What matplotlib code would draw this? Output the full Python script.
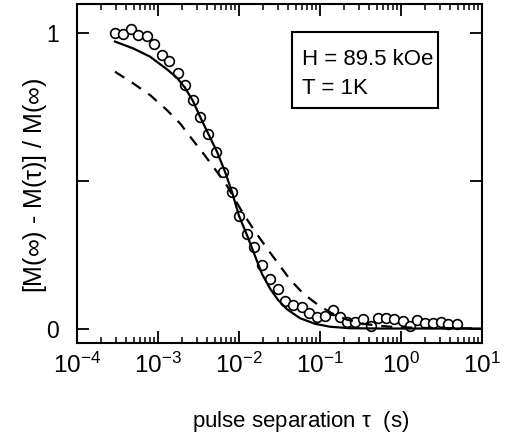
import matplotlib

matplotlib.use("Agg")
import matplotlib.pyplot as plt
from matplotlib.patches import Rectangle
from matplotlib.ticker import LogLocator, NullFormatter

plt.rcParams["font.family"] = ["Liberation Sans", "DejaVu Sans"]
plt.rcParams["mathtext.fontset"] = "stix"
plt.rcParams["mathtext.default"] = "regular"

# measured points
tau_data = [
    2.94e-4, 3.66e-4, 4.60e-4, 5.71e-4, 7.24e-4, 8.93e-4, 1.11e-3, 1.38e-3, 1.75e-3,
    2.15e-3, 2.68e-3, 3.30e-3, 4.18e-3, 5.15e-3, 6.40e-3, 8.13e-3, 1.00e-2, 1.24e-2,
    1.55e-2, 1.94e-2, 2.42e-2, 3.05e-2, 3.70e-2, 4.68e-2, 5.94e-2, 7.38e-2, 9.10e-2,
    0.115, 0.144, 0.177, 0.217, 0.270, 0.343, 0.427, 0.525, 0.653, 0.826, 1.05, 1.29,
    1.59, 1.98, 2.46, 3.09, 3.84, 4.88,
]
m_data = [
    0.999, 0.997, 1.013, 0.993, 0.990, 0.962, 0.926, 0.906, 0.864,
    0.824, 0.773, 0.717, 0.658, 0.596, 0.529, 0.463, 0.381, 0.320,
    0.277, 0.215, 0.166, 0.133, 0.094, 0.080, 0.072, 0.051, 0.040,
    0.042, 0.063, 0.040, 0.023, 0.023, 0.031, 0.008, 0.037, 0.035, 0.031, 0.025, 0.008,
    0.029, 0.018, 0.018, 0.023, 0.015, 0.015,
]

# solid fit curve
tau_solid = [
    2.94e-4, 4.91e-4, 7.96e-4, 1.29e-3, 1.72e-3, 2.15e-3, 2.70e-3, 3.30e-3, 4.14e-3,
    5.35e-3, 6.71e-3, 8.20e-3, 1.00e-2, 1.26e-2, 1.58e-2, 1.92e-2, 2.42e-2, 3.03e-2,
    3.92e-2, 5.66e-2, 8.67e-2, 0.133, 0.234, 0.551, 10.0,
]
m_solid = [
    0.971, 0.948, 0.920, 0.877, 0.848, 0.815, 0.770, 0.717, 0.661,
    0.598, 0.531, 0.462, 0.381, 0.315, 0.245, 0.185, 0.135, 0.097,
    0.065, 0.035, 0.016, 0.006, 0.001, 0.0, 0.0,
]

# dashed fit curve
tau_dashed = [
    2.94e-4, 4.91e-4, 7.96e-4, 1.29e-3, 1.87e-3, 2.48e-3, 3.80e-3, 5.35e-3, 7.11e-3,
    1.12e-2, 1.58e-2, 2.22e-2, 3.03e-2, 4.26e-2, 6.17e-2, 9.44e-2, 0.141, 0.215,
    0.360, 0.731, 1.72, 10.0,
]
m_dashed = [
    0.869, 0.830, 0.790, 0.739, 0.694, 0.650, 0.585, 0.530, 0.483,
    0.390, 0.328, 0.271, 0.221, 0.166, 0.119, 0.080, 0.051, 0.030,
    0.015, 0.006, 0.002, 0.0,
]

field_text = "H = 89.5 kOe"
temp_text = "T = 1K"

fig = plt.figure(figsize=(5.05, 4.43), dpi=100)
ax = fig.add_axes([77 / 505, 1 - 343 / 443, 405 / 505, 339 / 443])

ax.plot(tau_data, m_data, "o", ms=7, mfc="white", mec="black", mew=1.2, zorder=2)
ax.plot(tau_solid, m_solid, "-", color="black", lw=1.6, zorder=3)
ax.plot(tau_dashed, m_dashed, "--", color="black", lw=1.6, dashes=(5, 4), zorder=3)

ax.set_xscale("log")
ax.set_xlim(1e-4, 1e1)
ax.set_ylim(-0.049, 1.098)
ax.xaxis.set_major_locator(LogLocator(base=10, numticks=10))
ax.xaxis.set_minor_locator(LogLocator(base=10, subs=range(2, 10), numticks=50))
ax.xaxis.set_minor_formatter(NullFormatter())
ax.set_yticks([0, 0.5, 1], ["0", "", "1"])

for side in ax.spines.values():
    side.set_linewidth(1.5)
ax.tick_params(which="both", direction="in", top=True, right=True)
ax.tick_params(which="major", length=8.5, width=1.3)
ax.tick_params(which="minor", length=4.3, width=1.1)
ax.tick_params(axis="x", pad=7, labelsize=17.5)
ax.tick_params(axis="y", pad=13, labelsize=16.5)

ax.set_xlabel(r"pulse separation $\tau$  (s)", fontsize=16, va="center")
ax.xaxis.set_label_coords(0.553, -0.233)
ax.set_ylabel(r"[M($\infty$) - M($\tau$)] / M($\infty$)", fontsize=18, va="center")
ax.yaxis.set_label_coords(-0.104, 0.466)

ax.add_patch(Rectangle((0.531, 0.693), 0.36, 0.224, transform=ax.transAxes,
                       fill=False, lw=1.5, ec="black", zorder=4))
ax.text(0.555, 0.835, field_text, transform=ax.transAxes, fontsize=16, va="center")
ax.text(0.555, 0.752, temp_text, transform=ax.transAxes, fontsize=16, va="center")

fig.savefig("out.png", dpi=100)
plt.close(fig)
